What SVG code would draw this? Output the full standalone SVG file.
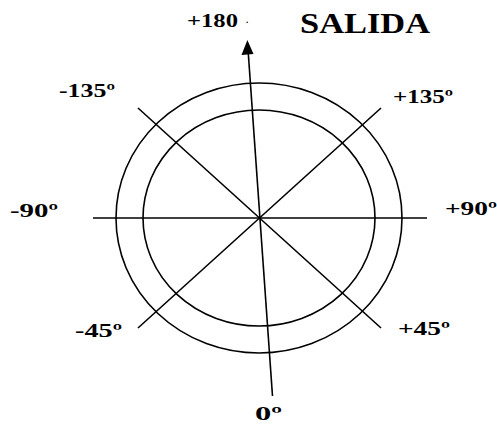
<svg xmlns="http://www.w3.org/2000/svg" width="497" height="428" viewBox="0 0 497 428">
<style>
.ln{stroke:#000;stroke-width:1.6;fill:none}
.lb{font-family:"Liberation Serif","DejaVu Serif",serif;font-weight:bold;font-size:19px;fill:#000;font-variant-numeric:oldstyle-nums}
.t{font-family:"Liberation Serif","DejaVu Serif",serif;font-weight:bold;font-size:30px;fill:#000}
</style>
<rect width="497" height="428" fill="#fff"/>
<g id="circles">
<ellipse class="ln" cx="259" cy="218" rx="143" ry="135"/>
<ellipse class="ln" cx="259" cy="218" rx="116" ry="108"/>
</g>
<g id="connectors">
<line class="ln" x1="93" y1="218" x2="427" y2="218"/>
<line class="ln" x1="138" y1="108" x2="381" y2="328"/>
<line class="ln" x1="381" y1="108" x2="138" y2="328"/>
<line class="ln" x1="272.5" y1="396" x2="248.2" y2="52"/>
<path d="M247.4,40 L241.5,55 L253.5,54 Z" fill="#000"/>
</g>
<g id="labels">
<text class="lb" x="187" y="27" textLength="51" lengthAdjust="spacingAndGlyphs">+180</text>
<text class="lb" x="246" y="23" style="font-size:9px">.</text>
<text class="t" x="300" y="33" textLength="130" lengthAdjust="spacingAndGlyphs">SALIDA</text>
<text class="lb" x="59" y="97" textLength="56" lengthAdjust="spacingAndGlyphs">-135º</text>
<text class="lb" x="393" y="103" textLength="60" lengthAdjust="spacingAndGlyphs">+135º</text>
<text class="lb" x="10" y="217" textLength="48" lengthAdjust="spacingAndGlyphs">-90º</text>
<text class="lb" x="445" y="215" textLength="52" lengthAdjust="spacingAndGlyphs">+90º</text>
<text class="lb" x="75" y="337" textLength="47" lengthAdjust="spacingAndGlyphs">-45º</text>
<text class="lb" x="398" y="335" textLength="52" lengthAdjust="spacingAndGlyphs">+45º</text>
<text class="lb" x="255" y="420" textLength="27" lengthAdjust="spacingAndGlyphs">0º</text>
</g>
</svg>
